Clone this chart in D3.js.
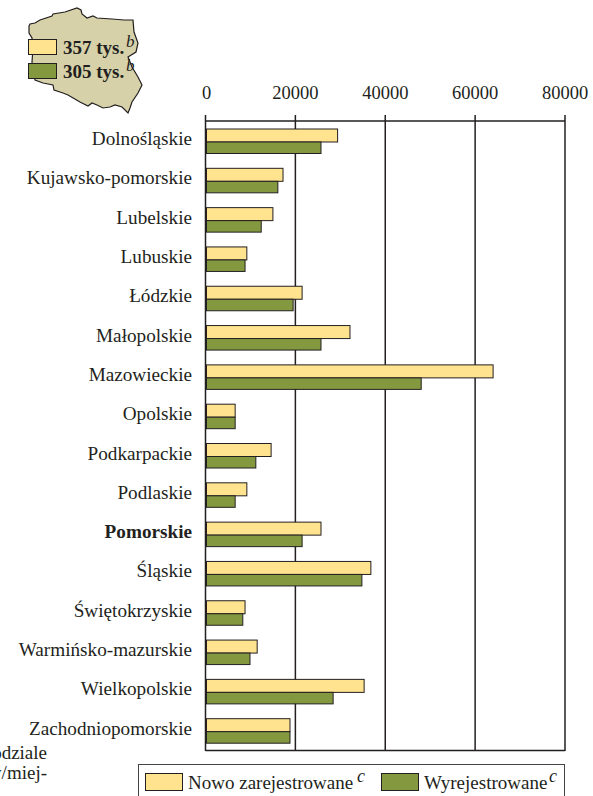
<!DOCTYPE html>
<html><head><meta charset="utf-8">
<script src="https://cdn.jsdelivr.net/npm/d3@7"></script>
<style>html,body{margin:0;padding:0;background:#fff}svg{display:block}text{font-family:"Liberation Serif",serif;fill:#231f20}</style>
</head><body><svg id="c" width="593" height="796"></svg>
<script>
const categories=["Dolnośląskie","Kujawsko-pomorskie","Lubelskie","Lubuskie","Łódzkie","Małopolskie","Mazowieckie","Opolskie","Podkarpackie","Podlaskie","Pomorskie","Śląskie","Świętokrzyskie","Warmińsko-mazurskie","Wielkopolskie","Zachodniopomorskie"];
const nowoZarejestrowane=[29400,17250,15000,9200,21500,32150,64000,6600,14600,9200,25700,36800,8800,11500,35300,18800];
const wyrejestrowane=[25700,16100,12400,8800,19500,25700,48000,6600,11200,6600,21500,34800,8300,9900,28400,18800];
const tickValues=[0,20000,40000,60000,80000];
const mapOutline=[[29,26],[30,24],[35,23],[40,20],[52,16],[53,14],[65,12],[77,8],[81,10],[82,14],[87,18],[93,16],[97,18],[112,19],[124,20],[133,20],[134,32],[138,43],[136,52],[128,57],[132,67],[138,77],[142,85],[138,93],[132,102],[130,108],[128,113],[122,107],[115,105],[110,107],[103,108],[97,105],[92,103],[88,106],[80,102],[68,95],[63,93],[54,90],[53,85],[43,83],[35,80],[33,72],[32,62],[33,48],[32,38],[29,33]];
const YEL="#ffe38f",GRN="#84993f",INK="#231f20";
const svg=d3.select("#c");
const x=d3.scaleLinear().domain([0,80000]).range([205.5,565]);
const y=d3.scaleBand().domain(categories).range([120.5,749.5]);

// map
svg.append("path").attr("d",d3.line().curve(d3.curveLinearClosed)(mapOutline)).attr("fill","#d6d1a9").attr("stroke",INK).attr("stroke-width",1.2);
const inset=[["357 tys.",YEL,39.5,54,46.5],["305 tys.",GRN,63.5,78,70.5]];
inset.forEach(([t,c,yy,by,sy])=>{
  svg.append("rect").attr("x",28.5).attr("y",yy).attr("width",28).attr("height",15).attr("fill",c).attr("stroke",INK).attr("stroke-width",1);
  svg.append("text").attr("x",63).attr("y",by).attr("font-size",19).attr("font-weight","bold").text(t);
  svg.append("text").attr("x",126).attr("y",sy).attr("font-size",17).attr("font-style","italic").text("b");
});

// grid + axis
svg.append("g").selectAll("line").data(tickValues).join("line")
  .attr("x1",d=>x(d)).attr("x2",d=>x(d)).attr("y1",115).attr("y2",751)
  .attr("stroke",INK).attr("stroke-width",1.5);
svg.append("line").attr("x1",x(0)).attr("x2",x(80000)).attr("y1",121).attr("y2",121).attr("stroke",INK).attr("stroke-width",1.6);
svg.append("line").attr("x1",x(0)).attr("x2",x(80000)).attr("y1",750.5).attr("y2",750.5).attr("stroke",INK).attr("stroke-width",1.6);
svg.append("g").selectAll("text").data(tickValues).join("text")
  .attr("x",d=>d===0?x(d)+1:x(d)).attr("y",99).attr("text-anchor","middle").attr("font-size",18.5).text(d=>d);

// bars
const rows=svg.append("g").selectAll("g").data(categories).join("g").attr("transform",d=>`translate(0,${y(d)})`);
rows.append("rect").attr("x",x(0)+1).attr("y",8.5).attr("height",13)
  .attr("width",(d,i)=>x(nowoZarejestrowane[i])-x(0)-1).attr("fill",YEL).attr("stroke",INK).attr("stroke-width",1);
rows.append("rect").attr("x",x(0)+1).attr("y",21.5).attr("height",11.5)
  .attr("width",(d,i)=>x(wyrejestrowane[i])-x(0)-1).attr("fill",GRN).attr("stroke",INK).attr("stroke-width",1);
rows.append("text").attr("x",192).attr("y",24.5).attr("text-anchor","end").attr("font-size",19.2)
  .attr("font-weight",d=>d==="Pomorskie"?"bold":"normal").text(d=>d);

// clipped page text
svg.append("text").attr("x",47).attr("y",759).attr("text-anchor","end").attr("font-size",19).text("odziale");
svg.append("text").attr("x",47).attr("y",779).attr("text-anchor","end").attr("font-size",19).text("v/miej-");

// legend
svg.append("rect").attr("x",138.5).attr("y",764.5).attr("width",426).attr("height",40).attr("fill","#fff").attr("stroke","#444").attr("stroke-width",1);
[["Nowo zarejestrowane",YEL,145,188,357],["Wyrejestrowane",GRN,381,424,549]].forEach(([t,c,sx,tx,cx])=>{
  svg.append("rect").attr("x",sx+.5).attr("y",773.5).attr("width",37).attr("height",17).attr("fill",c).attr("stroke",INK).attr("stroke-width",1);
  svg.append("text").attr("x",tx).attr("y",789).attr("font-size",19).text(t);
  svg.append("text").attr("x",cx).attr("y",782).attr("font-size",18).attr("font-style","italic").text("c");
});
</script></body></html>
